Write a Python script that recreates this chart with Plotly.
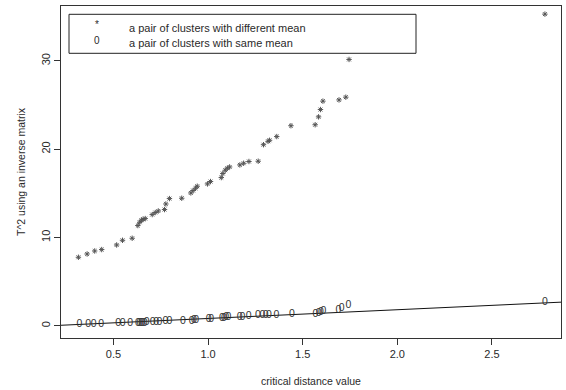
import plotly.graph_objects as go

# ---- data ----
diff_x = [0.315, 0.361, 0.401, 0.438, 0.517, 0.548, 0.599, 0.629, 0.639, 0.648,
          0.657, 0.668, 0.705, 0.721, 0.737, 0.770, 0.777, 0.796, 0.861, 0.909,
          0.921, 0.934, 0.943, 0.997, 1.013, 1.070, 1.078, 1.091, 1.102, 1.114,
          1.168, 1.188, 1.216, 1.265, 1.293, 1.317, 1.325, 1.363, 1.438, 1.566,
          1.584, 1.594, 1.607, 1.692, 1.728, 1.745, 2.780]
diff_y = [7.76, 8.13, 8.47, 8.63, 9.15, 9.68, 9.91, 11.35, 11.72, 11.95,
          12.06, 12.14, 12.59, 12.82, 13.00, 13.16, 13.79, 14.40, 14.44, 15.04,
          15.31, 15.57, 15.80, 16.06, 16.33, 16.78, 17.24, 17.61, 17.84, 17.98,
          18.21, 18.40, 18.60, 18.63, 20.50, 20.88, 21.00, 21.42, 22.65, 22.76,
          23.65, 24.48, 25.43, 25.57, 25.88, 30.15, 35.28]

same_x = [0.320, 0.366, 0.396, 0.435, 0.525, 0.549, 0.588, 0.629, 0.638, 0.646,
          0.655, 0.665, 0.676, 0.708, 0.726, 0.743, 0.775, 0.796, 0.867, 0.914,
          0.925, 0.937, 1.003, 1.017, 1.073, 1.084, 1.096, 1.108, 1.167, 1.181,
          1.214, 1.264, 1.287, 1.305, 1.322, 1.361, 1.443, 1.568, 1.584, 1.597,
          1.609, 1.689, 1.706, 1.742, 2.780]
same_y = [0.14, 0.16, 0.18, 0.20, 0.25, 0.27, 0.28, 0.30, 0.30, 0.31,
          0.32, 0.33, 0.34, 0.36, 0.38, 0.40, 0.45, 0.50, 0.55, 0.55,
          0.58, 0.60, 0.70, 0.72, 0.80, 0.85, 0.92, 0.98, 0.95, 1.00,
          1.10, 1.15, 1.17, 1.18, 1.20, 1.20, 1.25, 1.30, 1.40, 1.50,
          1.65, 1.80, 2.00, 2.30, 2.65]

fit_intercept = -0.16
fit_slope = 0.99

x_ticks = [0.5, 1.0, 1.5, 2.0, 2.5]
x_tick_labels = ["0.5", "1.0", "1.5", "2.0", "2.5"]
y_ticks = [0, 10, 20, 30]
y_tick_labels = ["0", "10", "20", "30"]

legend_labels = ["a pair of clusters with different mean",
                 "a pair of clusters with same mean"]
legend_symbols = ["*", "0"]

x_range = [0.223, 2.865]
y_range = [-1.38, 36.2]

FONT = "Liberation Sans, Arial, sans-serif"
INK = "#2a2a2a"

fig = go.Figure()

fig.add_trace(go.Scatter(
    x=[x_range[0], x_range[1]],
    y=[fit_intercept + fit_slope * x_range[0], fit_intercept + fit_slope * x_range[1]],
    mode="lines", line=dict(color="#111111", width=1), hoverinfo="skip",
    showlegend=False))

fig.add_trace(go.Scatter(
    x=diff_x, y=diff_y, mode="markers",
    marker=dict(symbol="asterisk-open", size=4.5,
                line=dict(color="#555555", width=1), color="#555555"),
    showlegend=False))

fig.add_trace(go.Scatter(
    x=same_x, y=same_y, mode="text", text=["0"] * len(same_x),
    textposition="middle center",
    textfont=dict(family=FONT, size=10.5, color="#333333"),
    showlegend=False))

axis_common = dict(
    showgrid=False, zeroline=False, showline=True, mirror=True,
    linecolor="#333333", linewidth=1, ticks="outside", ticklen=6,
    tickcolor="#333333", tickfont=dict(family=FONT, size=11, color=INK),
)

fig.update_xaxes(range=x_range, tickvals=x_ticks, ticktext=x_tick_labels,
                 title=dict(text="critical distance value", standoff=18,
                            font=dict(family=FONT, size=10.5, color=INK)),
                 **axis_common)
fig.update_yaxes(range=y_range, tickvals=y_ticks, ticktext=y_tick_labels,
                 tickangle=-90,
                 title=dict(text="T^2 using an inverse matrix", standoff=11,
                            font=dict(family=FONT, size=10.5, color=INK)),
                 **axis_common)

# legend box (R style)
W, H = 566, 390
L, R, T, B = 61, 5, 6, 52
pw, ph = W - L - R, H - T - B


def px(xp):
    return (xp - L) / pw


def py(yp):
    return (H - B - yp) / ph


fig.add_shape(type="rect", xref="paper", yref="paper",
              x0=px(69), x1=px(416), y0=py(53.3), y1=py(14.3),
              line=dict(color="#222222", width=1), fillcolor="white", layer="above")

line_y = [28, 42.5]
sym_y = [24, 40.5]
for i in range(2):
    fig.add_annotation(xref="paper", yref="paper", x=px(96.7), y=py(sym_y[i]),
                       text=legend_symbols[i], showarrow=False,
                       xanchor="center", yanchor="middle",
                       font=dict(family=FONT, size=10, color=INK))
    fig.add_annotation(xref="paper", yref="paper", x=px(127), y=py(line_y[i]),
                       text=legend_labels[i], showarrow=False,
                       xanchor="left", yanchor="middle",
                       font=dict(family=FONT, size=11, color=INK))

fig.update_layout(
    width=W, height=H,
    margin=dict(l=L, r=R, t=T, b=B, autoexpand=False),
    paper_bgcolor="white", plot_bgcolor="white",
    showlegend=False,
    font=dict(family=FONT, color=INK),
)

fig.write_html("out.html")
